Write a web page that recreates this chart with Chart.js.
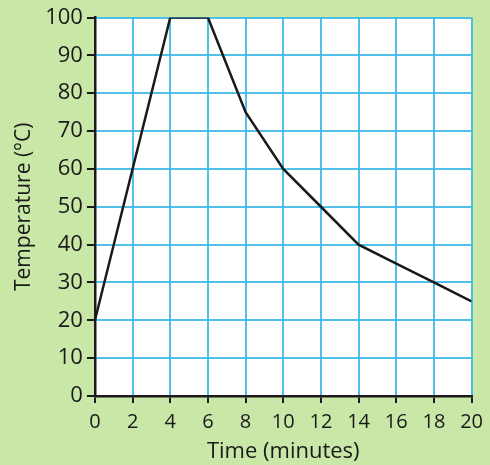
<!DOCTYPE html>
<html>
<head>
<meta charset="utf-8">
<script src="https://cdn.jsdelivr.net/npm/chart.js@4.4.0/dist/chart.umd.min.js"></script>
<style>
	html, body { margin: 0; padding: 0; background: #c9e7a7; }
	#wrap { width: 490px; height: 465px; }
</style>
</head>
<body>
<div id="wrap"><canvas id="chart" width="490" height="465"></canvas></div>
<script>
// Heating and cooling curve: temperature against time

const times = [0, 4, 6, 8, 10, 12, 14, 16, 18, 20];
const temps = [20, 100, 100, 75, 60, 50, 40, 35, 30, 25];

const xTitle = 'Time (minutes)';
const yTitle = 'Temperature (°C)';

const gridBlue = 'rgba(60, 185, 230, 0.9)';
const ink = '#1a1a1a';
const fontFamily = '"Open Sans", "Noto Sans", sans-serif';

// white paper behind the grid
const plotBg = {
	id: 'plotBg',
	beforeDraw(chart) {
		const { ctx, chartArea: a } = chart;
		ctx.save();
		ctx.fillStyle = '#ffffff';
		ctx.fillRect(a.left, a.top, a.right - a.left, a.bottom - a.top);
		ctx.restore();
	}
};

const ctx = document.getElementById('chart').getContext('2d');
new Chart(ctx, {
	type: 'line',
	data: {
		datasets: [{
			data: times.map((t, i) => ({ x: t, y: temps[i] })),
			borderColor: ink,
			borderWidth: 2.5,
			pointRadius: 0,
			tension: 0,
			fill: false
		}]
	},
	options: {
		responsive: false,
		animation: false,
		layout: { padding: { top: 17.5, right: 17, left: 11, bottom: 0 } },
		plugins: {
			legend: { display: false },
			tooltip: { enabled: false }
		},
		scales: {
			x: {
				type: 'linear',
				min: 0,
				max: 20,
				ticks: { stepSize: 2, color: ink, font: { family: fontFamily, size: 20 }, padding: 7, maxRotation: 0 },
				grid: { color: gridBlue, lineWidth: 2, tickColor: ink, tickLength: 7 },
				border: { color: ink, width: 2.5 },
				title: { display: true, text: xTitle, color: ink, font: { family: fontFamily, size: 22, lineHeight: 1.0 }, padding: { top: 0, bottom: 2 } }
			},
			y: {
				min: 0,
				max: 100,
				ticks: { stepSize: 10, color: ink, font: { family: fontFamily, size: 22 }, padding: 4 },
				grid: { color: gridBlue, lineWidth: 2, tickColor: ink, tickLength: 8 },
				border: { color: ink, width: 2.5 },
				title: { display: true, text: yTitle, color: ink, font: { family: fontFamily, size: 21 }, padding: { top: 0, bottom: 5 } }
			}
		}
	},
	plugins: [plotBg]
});
</script>
</body>
</html>
